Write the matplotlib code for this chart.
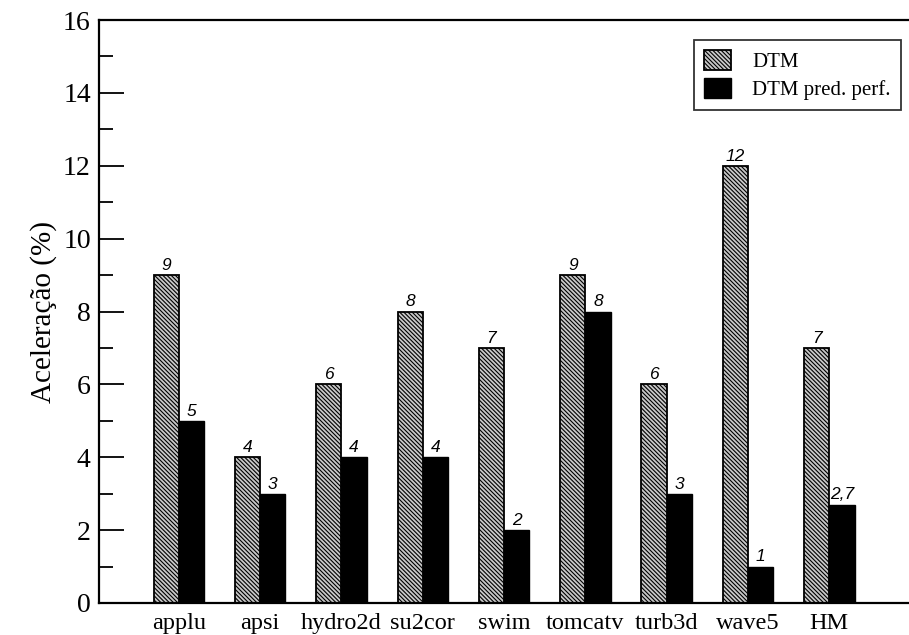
import matplotlib
matplotlib.use("Agg")
import matplotlib.pyplot as plt
import numpy as np
from matplotlib.ticker import MultipleLocator

# Benchmarks and speedups (%)
benchmarks = ["applu", "apsi", "hydro2d", "su2cor", "swim", "tomcatv", "turb3d", "wave5", "HM"]
dtm = [9, 4, 6, 8, 7, 9, 6, 12, 7]
dtm_pred = [5, 3, 4, 4, 2, 8, 3, 1, 2.7]
dtm_labels = ["9", "4", "6", "8", "7", "9", "6", "12", "7"]
dtm_pred_labels = ["5", "3", "4", "4", "2", "8", "3", "1", "2,7"]

serif = "Liberation Serif"
sans = "Liberation Sans"
plt.rcParams["hatch.linewidth"] = 0.8
plt.rcParams["hatch.color"] = "#2a2a2a"

fig = plt.figure(figsize=(9.09, 6.35), dpi=100)
ax = fig.add_axes([0.109, 0.0504, 0.891, 0.918])

x = np.arange(len(benchmarks))
w = 0.31
ax.bar(x, dtm, width=-w, align="edge", facecolor="#c8c8c8",
       edgecolor="black", linewidth=1.3, hatch="\\\\\\\\\\\\\\\\", label="DTM")
ax.bar(x, dtm_pred, width=w, align="edge", facecolor="black",
       edgecolor="black", linewidth=1.0, label="DTM pred. perf.")

for xi, v, t in zip(x, dtm, dtm_labels):
    ax.text(xi - w / 2, v + 0.06, t, ha="center", va="bottom",
            fontsize=12.5, style="italic", family=sans)
for xi, v, t in zip(x, dtm_pred, dtm_pred_labels):
    ax.text(xi + w / 2, v + 0.06, t, ha="center", va="bottom",
            fontsize=12.5, style="italic", family=sans)

ax.set_xlim(-0.98, 8.98)
ax.set_ylim(0, 16)
ax.yaxis.set_major_locator(MultipleLocator(2))
ax.yaxis.set_minor_locator(MultipleLocator(1))
ax.tick_params(axis="y", which="major", direction="in", length=18, width=1.3,
               labelsize=20, pad=6)
ax.tick_params(axis="y", which="minor", direction="in", length=10, width=1.3)
ax.set_xticks(x)
ax.set_xticklabels(benchmarks, fontsize=17.5, family=serif)
ax.tick_params(axis="x", length=0, pad=7)
for lbl in ax.get_yticklabels():
    lbl.set_family(serif)

ax.spines["right"].set_visible(False)
for s in ("left", "top", "bottom"):
    ax.spines[s].set_linewidth(1.6)

ax.set_ylabel("Aceleração (%)", fontsize=21, family=serif, labelpad=4)

leg = ax.legend(loc="upper right", bbox_to_anchor=(0.99, 0.966),
                prop={"family": serif, "size": 15}, frameon=True,
                fancybox=False, edgecolor="black", borderpad=0.5,
                handlelength=1.3, handleheight=1.1, handletextpad=1.0,
                labelspacing=0.25, borderaxespad=0.0)
leg.get_frame().set_linewidth(1.3)

fig.savefig("out.png", dpi=100)
